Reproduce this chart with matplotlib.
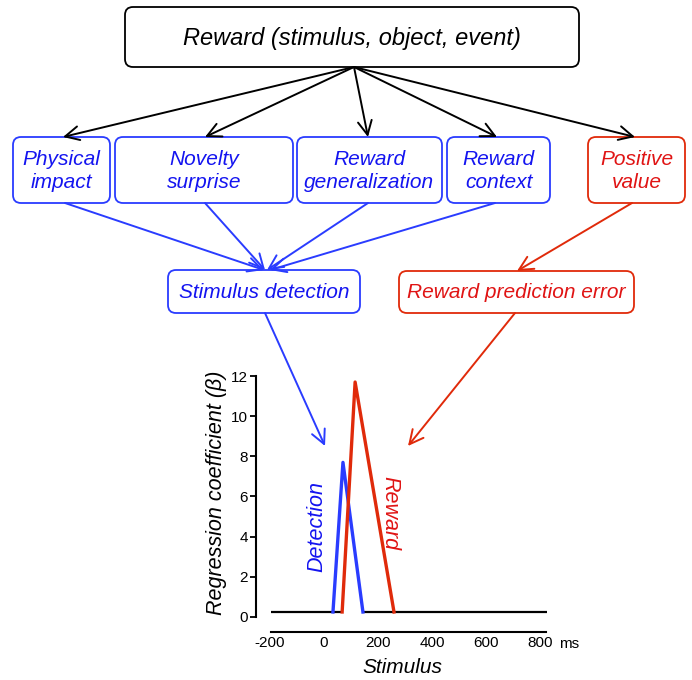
import matplotlib
matplotlib.use("Agg")
import matplotlib.pyplot as plt
from matplotlib.patches import FancyBboxPatch

plt.rcParams['font.family'] = ['Liberation Sans', 'DejaVu Sans']
plt.rcParams['axes.unicode_minus'] = False

# time course data (ms, regression coefficient)
baseline_beta = 0.25
baseline_left_t = [-195, 67]
baseline_right_t = [144, 825]
detection_t = [33, 70, 144]
detection_beta = [0.25, 7.7, 0.25]
reward_t = [67, 115, 259]
reward_beta = [0.25, 11.7, 0.25]
x_ticks = [-200, 0, 200, 400, 600, 800]
y_ticks = [0, 2, 4, 6, 8, 10, 12]

BLUE = "#2a3cff"
BLUE_TXT = "#1414f0"
RED = "#e02a0a"
RED_TXT = "#e01414"

fig = plt.figure(figsize=(6.92, 6.80), dpi=100)
ax = fig.add_axes([0, 0, 1, 1])
ax.set_xlim(0, 692)
ax.set_ylim(680, 0)
ax.axis("off")


def box(x0, y0, x1, y1, text, color, tcolor, fs=15):
    p = FancyBboxPatch((x0, y0), x1 - x0, y1 - y0,
                       boxstyle="round,pad=0,rounding_size=8",
                       fc="white", ec=color, lw=1.3)
    ax.add_patch(p)
    ax.text((x0 + x1) / 2, (y0 + y1) / 2 + 1, text, color=tcolor, fontsize=fs,
            style="italic", ha="center", va="center", linespacing=1.25)


def arrow(start, tip, color):
    ax.annotate("", xy=tip, xytext=start,
                arrowprops=dict(arrowstyle="->,head_length=1.0,head_width=0.5",
                                color=color, lw=1.4, shrinkA=0, shrinkB=0))


box(125, 7, 579, 67, "Reward (stimulus, object, event)", "black", "black", fs=17)
box(13, 137, 110, 203, "Physical\nimpact", BLUE, BLUE_TXT)
box(115, 137, 293, 203, "Novelty\nsurprise", BLUE, BLUE_TXT)
box(297, 137, 442, 203, "Reward\ngeneralization", BLUE, BLUE_TXT)
box(447, 137, 550, 203, "Reward\ncontext", BLUE, BLUE_TXT)
box(588, 137, 685, 203, "Positive\nvalue", RED, RED_TXT)
box(168, 270, 360, 313, "Stimulus detection", BLUE, BLUE_TXT)
box(399, 271, 634, 313, "Reward prediction error", RED, RED_TXT)

top = (354, 67)
for tip in [(63, 137), (205, 137), (368, 137), (497, 137), (635, 137)]:
    arrow(top, tip, "black")

arrow((65, 203), (264, 270), BLUE)
arrow((205, 203), (265, 270), BLUE)
arrow((368, 203), (267, 270), BLUE)
arrow((495, 203), (270, 270), BLUE)
arrow((632, 203), (517, 271), RED)
arrow((265, 313), (325, 446), BLUE)
arrow((515, 313), (408, 446), RED)

# inset time course plot
W, H = 692, 680
left, right, bottom, topp = 256, 549, 632, 376
pax = fig.add_axes([left / W, (H - bottom) / H, (right - left) / W, (bottom - topp) / H])
pax.set_xlim(-252, 833)
pax.set_ylim(-0.747, 12)
pax.patch.set_alpha(0)

pax.plot(baseline_left_t, [baseline_beta] * 2, color="black", lw=1.6, solid_capstyle="butt")
pax.plot(baseline_right_t, [baseline_beta] * 2, color="black", lw=1.6, solid_capstyle="butt")
pax.plot(detection_t, detection_beta, color=BLUE, lw=2.4)
pax.plot(reward_t, reward_beta, color=RED, lw=2.4)

pax.text(-26, 4.5, "Detection", color=BLUE_TXT, fontsize=15.5, style="italic",
         rotation=90, ha="center", va="center")
pax.text(244, 5.2, "Reward", color=RED_TXT, fontsize=15.5, style="italic",
         rotation=-90, ha="center", va="center")

for s in ["top", "right"]:
    pax.spines[s].set_visible(False)
pax.spines["left"].set_bounds(0, 12)
pax.spines["bottom"].set_bounds(-195, 822)
pax.spines["left"].set_linewidth(1.5)
pax.spines["bottom"].set_linewidth(1.5)
pax.set_xticks(x_ticks)
pax.set_yticks(y_ticks)
pax.tick_params(axis="x", length=0, pad=3, labelsize=11)
pax.tick_params(axis="y", length=4, width=1.3, pad=2, labelsize=11)
pax.set_ylabel("Regression coefficient (β)", fontsize=15.5, style="italic")
pax.yaxis.set_label_coords(-0.099, 0.545)
pax.set_xlabel("Stimulus", fontsize=15, style="italic")
pax.xaxis.set_label_coords(0.498, -0.10)

ax.text(569, 644, "ms", fontsize=11, ha="center", va="center")

fig.savefig("out.png", dpi=100)
